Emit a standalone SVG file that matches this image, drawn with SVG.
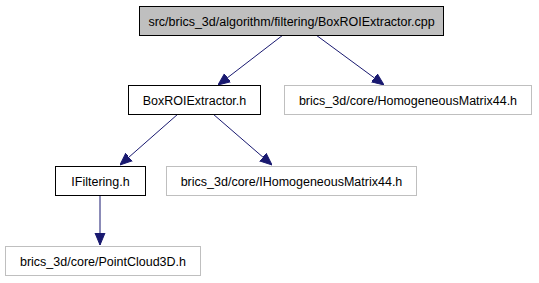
<svg xmlns="http://www.w3.org/2000/svg" width="539" height="283" viewBox="0 0 539 283">
  <style>
    text { font-family: "Liberation Sans", Arial, sans-serif; font-size: 12.5px; text-anchor: middle; fill: #000; }
    .box { fill: #fff; stroke: #000; stroke-width: 1; }
    .root { fill: #bfbfbf; stroke: #000; stroke-width: 1; }
    .ext { fill: #fff; stroke: #bfbfbf; stroke-width: 1; }
    .edge { fill: none; stroke: #191970; stroke-width: 1; marker-end: url(#arrow); }
  </style>
  <defs>
    <marker id="arrow" viewBox="0 0 12 12" refX="12" refY="6" markerWidth="12" markerHeight="12" markerUnits="userSpaceOnUse" orient="auto">
      <path d="M0,1 L12,6 L0,11 Z" fill="#191970" stroke="#191970"/>
    </marker>
  </defs>

  <g id="edges">
    <path class="edge" d="M283,35 L218,85"/>
    <path class="edge" d="M316,35 L384,85"/>
    <path class="edge" d="M178,114 L120,165"/>
    <path class="edge" d="M213,114 L272,165"/>
    <path class="edge" d="M100,195 L100,245"/>
  </g>

  <g id="node-root">
    <rect class="root" x="139.5" y="6.5" width="304" height="29"/>
    <text x="291.5" y="25.5">src/brics_3d/algorithm/filtering/BoxROIExtractor.cpp</text>
  </g>
  <g id="node-boxroi">
    <rect class="box" x="128.5" y="85.5" width="132" height="29"/>
    <text x="194.5" y="104.5">BoxROIExtractor.h</text>
  </g>
  <g id="node-homogeneous">
    <rect class="ext" x="284.5" y="85.5" width="247" height="29"/>
    <text x="408" y="104.5">brics_3d/core/HomogeneousMatrix44.h</text>
  </g>
  <g id="node-ifiltering">
    <rect class="box" x="55.5" y="166.5" width="90" height="29"/>
    <text x="100.5" y="185.5">IFiltering.h</text>
  </g>
  <g id="node-ihomogeneous">
    <rect class="ext" x="166.5" y="166.5" width="250" height="29"/>
    <text x="291.5" y="185.5">brics_3d/core/IHomogeneousMatrix44.h</text>
  </g>
  <g id="node-pointcloud">
    <rect class="ext" x="5.5" y="246.5" width="195" height="29"/>
    <text x="103" y="265.5">brics_3d/core/PointCloud3D.h</text>
  </g>
</svg>
